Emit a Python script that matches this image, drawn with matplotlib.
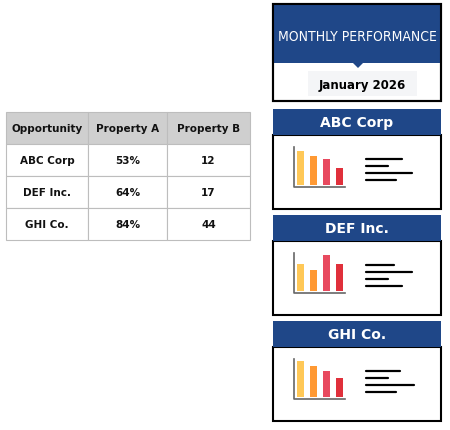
import matplotlib
matplotlib.use("Agg")
import matplotlib.pyplot as plt
from matplotlib.patches import Rectangle, Polygon

# data
columns = ["Opportunity", "Property A", "Property B"]
opportunities = ["ABC Corp", "DEF Inc.", "GHI Co."]
property_a = ["53%", "64%", "84%"]
property_b = ["12", "17", "44"]
title = "MONTHLY PERFORMANCE"
period = "January 2026"
icon_heights = [[34, 29, 26, 17], [27, 21, 36, 27], [36, 31, 26, 19]]
line_lengths = [[36, 22, 46, 30], [28, 46, 22, 36], [34, 22, 48, 30]]

BLUE = "#1f4788"
BAR_COLORS = ["#ffc857", "#ff9933", "#e84a5f", "#e0303b"]

fig = plt.figure(figsize=(4.5, 4.31), dpi=100)
ax = fig.add_axes([0, 0, 1, 1])
ax.set_xlim(0, 450); ax.set_ylim(431, 0); ax.axis("off")

# table
col_x = [6, 88, 167, 250]
row_y = [113, 145, 177, 209, 241]
rows = [columns] + [[o, a, b] for o, a, b in zip(opportunities, property_a, property_b)]
for r, row in enumerate(rows):
    for c, txt in enumerate(row):
        x0, x1 = col_x[c], col_x[c + 1]
        y0, y1 = row_y[r], row_y[r + 1]
        ax.add_patch(Rectangle((x0, y0), x1 - x0, y1 - y0,
                               facecolor="#cfcfcf" if r == 0 else "white",
                               edgecolor="#bdbdbd", lw=0.8))
        ax.text((x0 + x1) / 2, (y0 + y1) / 2, txt, ha="center", va="center",
                fontsize=7.5, fontweight="bold" if r == 0 else "semibold",
                color="#111111")

# header panel
ax.add_patch(Rectangle((273, 5), 168, 97, facecolor="white", edgecolor="black", lw=1.5))
ax.add_patch(Rectangle((273, 5), 168, 59, facecolor=BLUE, edgecolor="none"))
ax.add_patch(Polygon([[353, 64], [363, 64], [358, 69]], facecolor=BLUE, edgecolor="none"))
ax.add_patch(Rectangle((273, 5), 168, 97, facecolor="none", edgecolor="black", lw=1.5))
ax.text(357, 37, title, ha="center", va="center", color="white", fontsize=10,
        fontstretch="condensed", family="DejaVu Sans")
ax.add_patch(Rectangle((308, 72), 109, 25, facecolor="#f4f5f7", edgecolor="none"))
ax.text(362, 85, period, ha="center", va="center", fontsize=8.5, fontweight="bold")

# cards
card_tops = [110, 216, 322]
for i, name in enumerate(opportunities):
    t = card_tops[i]
    ax.add_patch(Rectangle((273, t + 26), 168, 74, facecolor="white", edgecolor="black", lw=1.5))
    ax.add_patch(Rectangle((273, t), 168, 26, facecolor=BLUE, edgecolor="none"))
    ax.text(357, t + 13.5, name, ha="center", va="center", color="white",
            fontsize=10, fontweight="bold")
    # mini bar chart icon
    base = t + 76
    ax.plot([294, 294, 345], [t + 38, base + 2, base + 2], color="#666666", lw=1.2)
    xs = [300, 313, 326, 339]
    ax.bar(xs, [-h for h in icon_heights[i]], bottom=base, width=7,
           color=BAR_COLORS)
    # text lines
    for j, L in enumerate(line_lengths[i]):
        y = t + 50 + j * 7
        ax.plot([366, 366 + L], [y, y], color="black", lw=1.6, solid_capstyle="round")

fig.savefig("out.png", dpi=100)
